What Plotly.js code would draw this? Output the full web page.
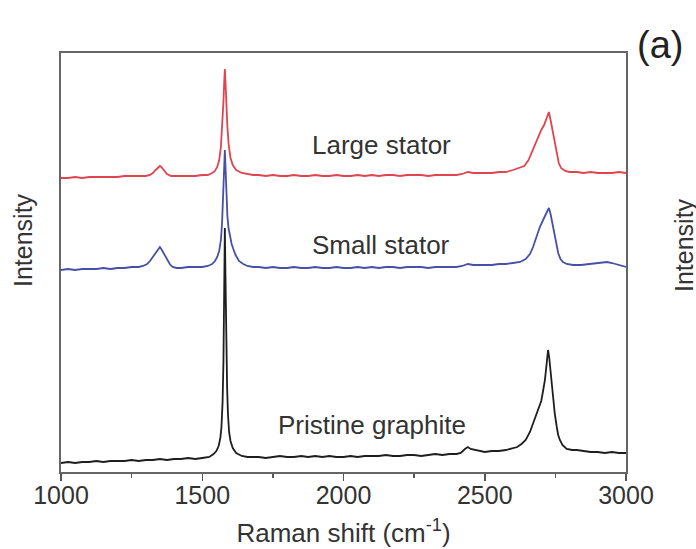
<!DOCTYPE html>
<html>
<head>
<meta charset="utf-8">
<script src="https://cdn.plot.ly/plotly-3.0.1.min.js"></script>
<style>html,body{margin:0;padding:0;background:#fff;}#chart{width:696px;height:549px;}</style>
</head>
<body>
<div id="chart"></div>
<script>
// Raman shift (cm^-1) and intensity (a.u., stacked offsets as drawn)
var pristineX = [1000,1025,1050,1075,1100,1125,1150,1175,1200,1225,1250,1275,1300,1325,1350,1375,1400,1425,1450,1475,1500,1525,1540,1550,1558,1564,1568,1572,1575,1578,1580,1582,1585,1588,1591,1595,1600,1608,1620,1640,1660,1700,1725,1750,1775,1800,1825,1850,1875,1900,1925,1950,1975,2000,2025,2050,2075,2100,2125,2150,2175,2200,2225,2250,2275,2300,2325,2350,2375,2400,2415,2430,2440,2450,2465,2480,2500,2525,2550,2575,2600,2615,2630,2645,2660,2670,2680,2690,2696,2700,2707,2713,2719,2724,2728,2733,2738,2742,2748,2755,2760,2766,2775,2790,2810,2826,2850,2875,2900,2925,2950,2975,3000];
var pristineY = [9,10,9,10,10,11,10,11,11,11,12,11,12,12,13,12,13,13,14,13,14,15,18,21,26,34,45,70,110,180,244,200,130,85,58,40,31,24,19,16,15,15,14,15,16,15,15,16,15,16,15,16,15,15,16,15,16,16,16,17,16,16,17,17,16,17,18,17,18,18,19,23,25,23,22,21,20,21,21,22,24,25,28,32,40,48,56,63,67,71,82,92,108,122,115,100,85,72,58,45,37,32,27,23,22,22,21,20,20,19,20,19,19];

var smallX = [1000,1025,1050,1075,1100,1125,1150,1175,1200,1225,1250,1275,1290,1305,1315,1325,1335,1345,1350,1355,1365,1375,1385,1395,1410,1425,1450,1475,1500,1520,1535,1545,1553,1560,1566,1570,1574,1577,1580,1583,1586,1589,1593,1598,1604,1610,1618,1630,1645,1660,1680,1700,1725,1750,1775,1800,1825,1850,1875,1900,1925,1950,1975,2000,2025,2050,2075,2100,2125,2150,2175,2200,2225,2250,2275,2300,2325,2350,2375,2400,2420,2440,2460,2480,2500,2525,2550,2575,2600,2625,2645,2660,2671,2683,2695,2705,2713,2720,2727,2733,2742,2750,2760,2768,2777,2790,2813,2840,2870,2900,2933,2950,2975,3000];
var smallY = [202,203,202,203,203,203,204,203,204,204,205,205,206,208,211,215,220,224,225,223,218,212,208,205,204,204,205,205,205,206,208,211,215,221,232,248,272,298,322,300,275,256,244,235,228,223,217,211,208,206,205,205,204,205,204,204,205,204,204,205,204,204,205,204,204,205,204,205,204,205,205,204,205,205,205,204,205,205,205,205,206,208,207,207,207,207,208,208,209,210,213,218,225,236,245,251,255,260,264,258,245,232,219,213,210,208,207,207,208,209,210,209,207,205];

var largeX = [1000,1025,1050,1075,1100,1125,1150,1175,1200,1225,1250,1275,1300,1315,1325,1335,1345,1350,1355,1365,1375,1390,1410,1430,1450,1475,1500,1520,1535,1545,1553,1560,1566,1571,1575,1578,1580,1582,1585,1589,1594,1600,1608,1620,1640,1660,1680,1700,1725,1750,1775,1800,1825,1850,1875,1900,1925,1950,1975,2000,2025,2050,2075,2100,2125,2150,2175,2200,2225,2250,2275,2300,2325,2350,2375,2400,2420,2440,2460,2480,2500,2525,2550,2575,2600,2620,2640,2655,2670,2680,2690,2700,2710,2718,2727,2733,2740,2747,2755,2762,2770,2785,2800,2825,2850,2875,2900,2925,2950,2975,3000];
var largeY = [294,294,295,294,295,295,295,295,295,296,296,296,296,297,299,302,305,306,305,301,298,296,296,296,296,296,297,297,299,301,305,312,325,345,370,392,403,392,370,345,326,314,307,302,299,298,297,297,296,297,296,296,297,296,296,297,296,296,297,296,296,297,296,297,296,297,297,296,297,297,297,296,297,297,297,297,298,300,299,299,299,299,300,300,302,304,306,312,322,330,337,342,347,353,360,352,342,330,317,309,304,301,300,300,299,300,299,299,299,300,299];

var seriesNames = ["Pristine graphite","Small stator","Large stator"];
var xTicks = [1000,1500,2000,2500,3000];

var font = "Liberation Sans, Arial, sans-serif";
var txt = "#333";

var traces = [
  {x: pristineX, y: pristineY, name: seriesNames[0], mode: "lines", line: {color: "#1e1e1e", width: 1.8}},
  {x: smallX, y: smallY, name: seriesNames[1], mode: "lines", line: {color: "#4650a8", width: 1.8}},
  {x: largeX, y: largeY, name: seriesNames[2], mode: "lines", line: {color: "#e0454f", width: 1.8}}
];

function px2x(p){ return (p-61)/565; }
function px2y(p){ return (472-p)/419; }

var layout = {
  width: 696, height: 549,
  margin: {l: 61, r: 70, t: 53, b: 77},
  paper_bgcolor: "#fff", plot_bgcolor: "#fff",
  showlegend: false,
  font: {family: font, color: txt, size: 24},
  xaxis: {
    range: [1000, 3000],
    tickvals: xTicks,
    ticktext: xTicks.map(String),
    ticks: "outside", ticklen: 7, tickwidth: 1.5, tickcolor: "#555",
    ticklabelstandoff: -7,
    minor: {tickvals: [1250,1750,2250,2750], ticks: "outside", ticklen: 4, tickwidth: 1.5, tickcolor: "#555"},
    showline: true, linecolor: "#666", linewidth: 2, mirror: true,
    showgrid: false, zeroline: false,
    tickfont: {family: font, size: 25, color: txt},
    title: {text: "Raman shift (cm<sup>-1</sup>)", font: {family: font, size: 26, color: txt}, standoff: 16}
  },
  yaxis: {
    range: [0, 419],
    showticklabels: false, ticks: "",
    showline: true, linecolor: "#666", linewidth: 2, mirror: true,
    showgrid: false, zeroline: false
  },
  annotations: [
    {text: seriesNames[2], x: px2x(381), y: px2y(145), xref: "paper", yref: "paper", xanchor: "center", yanchor: "middle", showarrow: false, font: {family: font, size: 26, color: txt}},
    {text: seriesNames[1], x: px2x(381), y: px2y(245), xref: "paper", yref: "paper", xanchor: "center", yanchor: "middle", showarrow: false, font: {family: font, size: 26, color: txt}},
    {text: seriesNames[0], x: px2x(372), y: px2y(425), xref: "paper", yref: "paper", xanchor: "center", yanchor: "middle", showarrow: false, font: {family: font, size: 26, color: txt}},
    {text: "Intensity", textangle: -90, xref: "paper", yref: "paper", x: px2x(23), y: px2y(240), xanchor: "center", yanchor: "middle", showarrow: false, font: {family: font, size: 25, color: txt}},
    {text: "Intensity", textangle: -90, xref: "paper", yref: "paper", x: px2x(684), y: px2y(245), xanchor: "center", yanchor: "middle", showarrow: false, font: {family: font, size: 25, color: txt}},
    {text: "(a)", xref: "paper", yref: "paper", x: px2x(660), y: px2y(45), xanchor: "center", yanchor: "middle", showarrow: false, font: {family: font, size: 38, color: "#222"}}
  ]
};

Plotly.newPlot("chart", traces, layout, {displayModeBar: false, staticPlot: true});
</script>
</body>
</html>
